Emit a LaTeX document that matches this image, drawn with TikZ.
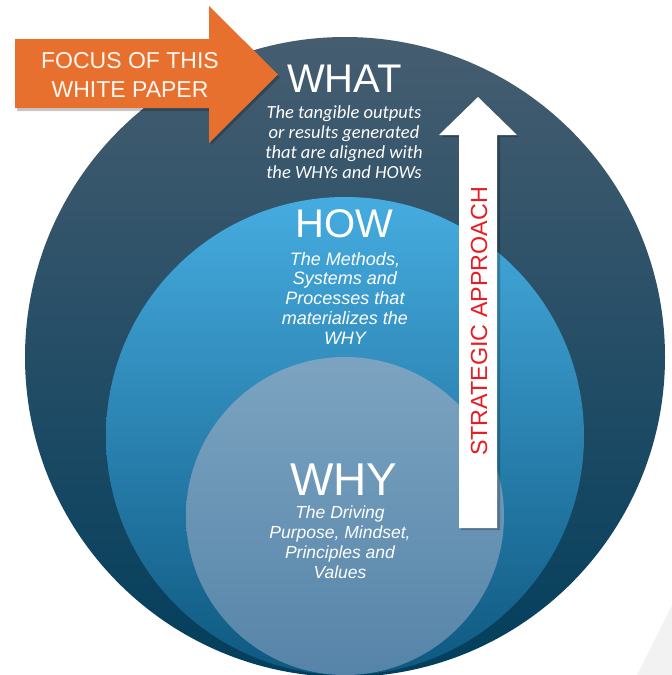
\documentclass[tikz,border=0pt]{standalone}
\usepackage{fontspec}
\setmainfont{Liberation Sans}
\newfontfamily\calibrifont{Carlito}
\usetikzlibrary{calc}

\definecolor{whatTop}{RGB}{70,93,112}
\definecolor{whatMid}{RGB}{22,76,104}
\definecolor{whatBot}{RGB}{2,62,92}
\definecolor{howTop}{RGB}{70,172,224}
\definecolor{howMid}{RGB}{34,124,170}
\definecolor{howBot}{RGB}{14,88,128}
\definecolor{whyTop}{RGB}{124,164,193}
\definecolor{whyBot}{RGB}{86,132,168}
\definecolor{focusOrange}{RGB}{232,112,47}
\definecolor{stratRed}{RGB}{232,28,36}
\definecolor{cornerGray}{RGB}{242,242,242}

\tikzset{
  ringtitle/.style={inner sep=0pt, anchor=base, text=white,
    font=\fontsize{40}{48}\selectfont},
  % multi-line blocks: the base anchor sits on the last line
  ringdesc/.style={inner sep=0pt, anchor=base, text=white, align=center,
    font=\itshape\fontsize{18}{19.75}\selectfont},
  dropshade/.style={fill=black, opacity=0.22}
}

\begin{document}
\begin{tikzpicture}[x=1pt,y=-1pt]
  \useasboundingbox (0,0) rectangle (672,675);
  \clip (0,0) rectangle (672,675);

  % faint corner panel
  \fill[cornerGray] (637,675) -- (672,605) -- (672,675) -- cycle;

  % nested rings
  \shade[top color=whatTop, middle color=whatMid, bottom color=whatBot]
    (345,357) circle (320pt);
  \shade[top color=howTop, middle color=howMid, bottom color=howBot]
    (345,436) circle (239pt);
  \shade[top color=whyTop, bottom color=whyBot]
    (345,516) circle (159pt);

  % callout arrow
  \fill[dropshade] (17,41) -- (211,41) -- (211,9) -- (280,77) -- (211,145)
    -- (211,111) -- (17,111) -- cycle;
  \fill[focusOrange] (15,39) -- (209,39) -- (209,6) -- (278,74.5)
    -- (209,143) -- (209,108) -- (15,108) -- cycle;
  \node[inner sep=0pt, anchor=base, align=center, text=white!94!orange,
    font=\fontsize{23}{29}\selectfont] (focus) at (130,97)
    {FOCUS OF THIS\\WHITE PAPER};

  % upward arrow
  \fill[dropshade] (461,137) -- (442,137) -- (480,99) -- (519,137)
    -- (500,137) -- (500,530) -- (461,530) -- cycle;
  \fill[white] (459,135) -- (439,135) -- (478,97) -- (517,135)
    -- (497,135) -- (497,528) -- (459,528) -- cycle;
  \node[inner sep=0pt, anchor=base, rotate=90, text=stratRed,
    font=\fontsize{23.3}{28}\selectfont] (strategy) at (487,321.5)
    {STRATEGIC APPROACH};

  % ring labels
  \node[ringtitle] (what) at (344.5,92) {WHAT};
  \node[ringdesc, font=\calibrifont\itshape\fontsize{18.5}{20}\selectfont]
    (whatdesc) at (344,178)
    {The tangible outputs\\or results generated\\that are aligned with\\the WHYs and HOWs};

  \node[ringtitle] (how) at (344,237) {HOW};
  \node[ringdesc] (howdesc) at (345,344)
    {The Methods,\\Systems and\\Processes that\\materializes the\\WHY};

  \node[ringtitle, font=\fontsize{46}{54}\selectfont] (why) at (344,495) {WHY};
  \node[ringdesc, font=\itshape\fontsize{17.5}{19.7}\selectfont]
    (whydesc) at (340,578)
    {The Driving\\Purpose, Mindset,\\Principles and\\Values};
\end{tikzpicture}
\end{document}
